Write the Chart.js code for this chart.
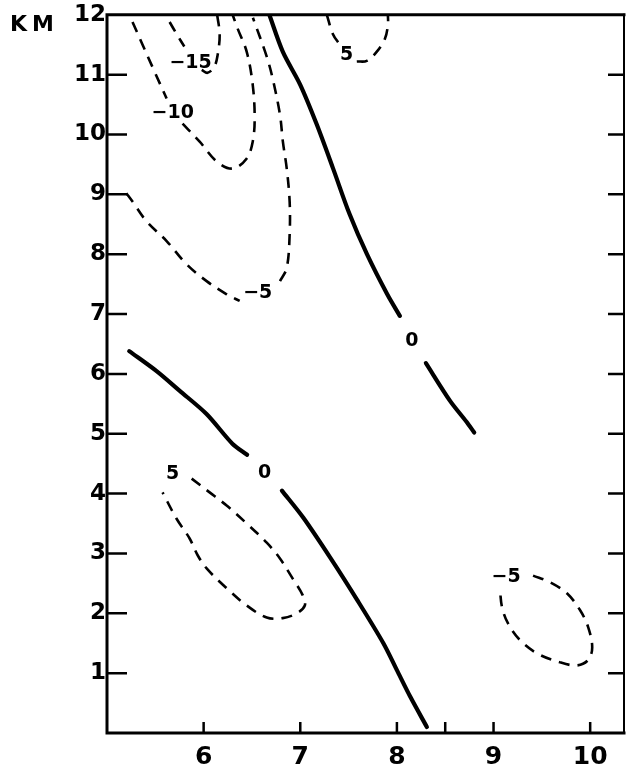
<!DOCTYPE html>
<html><head><meta charset="utf-8">
<script src="https://cdn.jsdelivr.net/npm/chart.js@4"></script>
<style>html,body{margin:0;padding:0;background:#fff;}#wrap{width:626px;height:770px;position:relative;}</style>
</head><body><div id="wrap"><canvas id="c" width="626" height="770"></canvas></div>
<script>
// ---- axis ticks ----
const xTicks = [6, 7, 8, 8.5, 9, 10];
const xTickLabels = ['6', '7', '8', '', '9', '10'];
const yTicks = [0, 1, 2, 3, 4, 5, 6, 7, 8, 9, 10, 11, 12];
const yTickLabels = ['', '1', '2', '3', '4', '5', '6', '7', '8', '9', '10', '11', '12'];
const yUnit = 'KM';

// ---- contour lines (x, km) ----
const zeroUpperA = [[6.68,12.0],[6.82,11.38],[7.0,10.83],[7.17,10.17],[7.34,9.43],[7.51,8.67],[7.69,8.0],[7.90,7.33],[8.03,6.97]];
const zeroUpperB = [[8.30,6.18],[8.55,5.55],[8.72,5.2],[8.80,5.02]];
const zeroLowerA = [[5.23,6.38],[5.51,6.05],[5.75,5.72],[6.03,5.33],[6.30,4.83],[6.45,4.65]];
const zeroLowerB = [[6.81,4.05],[7.03,3.6],[7.31,2.93],[7.59,2.22],[7.86,1.5],[8.0,1.05],[8.14,0.6],[8.31,0.1]];
const neg15A = [[5.648,11.88],[5.72,11.68],[5.80,11.47]];
const neg15B = [[5.98,11.08],[6.04,11.03],[6.11,11.13],[6.145,11.33],[6.166,11.67],[6.14,12.0]];
const neg10A = [[5.264,11.88],[5.368,11.5],[5.492,11.05],[5.617,10.6]];
const neg10B = [[5.782,10.18],[5.959,9.88],[6.135,9.55],[6.30,9.43],[6.446,9.6],[6.508,9.88],[6.528,10.27],[6.508,10.83],[6.446,11.38],[6.352,11.77],[6.30,12.0]];
const neg5A = [[5.20,9.02],[5.264,8.88],[5.409,8.55],[5.617,8.22],[5.824,7.83],[6.031,7.55],[6.238,7.33],[6.373,7.22]];
const neg5B = [[6.79,7.55],[6.86,7.77],[6.89,8.33],[6.89,8.88],[6.86,9.43],[6.82,9.88],[6.79,10.33],[6.715,10.93],[6.653,11.30],[6.51,11.95]];
const pos5TopA = [[7.275,12.0],[7.337,11.68],[7.409,11.5]];
const pos5TopB = [[7.585,11.22],[7.689,11.23],[7.79,11.38],[7.876,11.6],[7.907,11.83],[7.907,12.0]];
const pos5Low = [[5.876,4.25],[6.062,4.02],[6.238,3.8],[6.446,3.5],[6.653,3.18],[6.788,2.92],[6.922,2.58],[7.026,2.3],[7.047,2.13],[6.964,2.0],[6.819,1.92],[6.653,1.93],[6.446,2.13],[6.238,2.42],[6.031,2.75],[5.938,2.97],[5.855,3.25],[5.72,3.58],[5.575,4.02]];
const neg5Right = [[9.409,2.63],[9.585,2.52],[9.762,2.33],[9.896,2.05],[9.979,1.77],[10.021,1.43],[9.979,1.22],[9.865,1.13],[9.689,1.18],[9.451,1.33],[9.275,1.55],[9.150,1.83],[9.088,2.1],[9.067,2.38]];

// ---- contour labels ----
const labelTexts = ['\u221215', '\u221210', '\u22125', '5', '0', '0', '5', '\u22125'];
const labelX = [5.865, 5.68, 6.56, 7.48, 8.155, 6.63, 5.68, 9.13];
const labelY = [11.2, 10.35, 7.35, 11.33, 6.55, 4.35, 4.33, 2.6];

const solidLines = [zeroUpperA, zeroUpperB, zeroLowerA, zeroLowerB];
const dashedLines = [neg15A, neg15B, neg10A, neg10B, neg5A, neg5B, pos5TopA, pos5TopB, pos5Low, neg5Right];

const toPts = arr => arr.map(p => ({x: p[0], y: p[1]}));
const datasets = [];
solidLines.forEach(l => datasets.push({data: toPts(l), showLine: true, borderColor: '#000', borderWidth: 4.2, pointRadius: 0, tension: 0.3, borderCapStyle: 'round', fill: false}));
dashedLines.forEach(l => datasets.push({data: toPts(l), showLine: true, borderColor: '#000', borderWidth: 2.6, borderDash: [11, 8], pointRadius: 0, tension: 0.35, borderCapStyle: 'butt', fill: false}));

const framePlugin = {
  id: 'frame',
  afterDraw(chart) {
    const ctx = chart.ctx, a = chart.chartArea;
    const xs = chart.scales.x, ys = chart.scales.y;
    ctx.save();
    ctx.strokeStyle = '#000';
    ctx.lineCap = 'square';
    ctx.lineWidth = 3;
    ctx.beginPath();
    ctx.moveTo(a.left, a.top); ctx.lineTo(a.right, a.top);
    ctx.moveTo(a.left, a.top); ctx.lineTo(a.left, a.bottom); ctx.lineTo(a.right, a.bottom);
    ctx.stroke();
    ctx.lineWidth = 2;
    ctx.beginPath(); ctx.moveTo(a.right, a.top); ctx.lineTo(a.right, a.bottom); ctx.stroke();
    ctx.lineWidth = 2.5;
    ctx.lineCap = 'butt';
    ctx.beginPath();
    yTicks.forEach(v => {
      if (v <= 0 || v >= 12) return;
      const py = ys.getPixelForValue(v);
      ctx.moveTo(a.left, py); ctx.lineTo(a.left + 20, py);
      ctx.moveTo(a.right, py); ctx.lineTo(a.right - 16, py);
    });
    xTicks.forEach(v => {
      const px = xs.getPixelForValue(v);
      ctx.moveTo(px, a.bottom); ctx.lineTo(px, a.bottom - 11);
    });
    ctx.stroke();
    // unit label
    ctx.fillStyle = '#000';
    ctx.font = 'bold 22px "DejaVu Sans"';
    ctx.textBaseline = 'alphabetic';
    ctx.textAlign = 'left';
    ctx.fillText(yUnit[0], 10, 31);
    ctx.fillText(yUnit[1], 32, 31);
    // contour labels
    ctx.font = 'bold 19px "DejaVu Sans"';
    ctx.textAlign = 'center';
    ctx.textBaseline = 'middle';
    labelTexts.forEach((t, i) => {
      ctx.fillText(t, xs.getPixelForValue(labelX[i]), ys.getPixelForValue(labelY[i]));
    });
    ctx.restore();
  }
};

new Chart(document.getElementById('c'), {
  type: 'scatter',
  data: {datasets},
  options: {
    responsive: false,
    devicePixelRatio: 1,
    animation: false,
    layout: {padding: {top: 14, right: 2, left: 0, bottom: 0}},
    plugins: {legend: {display: false}, tooltip: {enabled: false}},
    scales: {
      x: {
        type: 'linear', min: 5.0, max: 10.35,
        afterBuildTicks: s => { s.ticks = xTicks.map(v => ({value: v})); },
        afterFit: s => { s.height = 37; },
        grid: {display: false, drawTicks: false},
        border: {display: false},
        ticks: {
          autoSkip: false, maxRotation: 0, padding: 9, color: '#000',
          font: {family: 'DejaVu Sans', weight: 'bold', size: 25},
          callback: (v) => { const i = xTicks.indexOf(v); return i >= 0 ? xTickLabels[i] : ''; }
        }
      },
      y: {
        type: 'linear', min: 0, max: 12,
        afterBuildTicks: s => { s.ticks = yTicks.map(v => ({value: v})); },
        afterFit: s => { s.width = 107; },
        grid: {display: false, drawTicks: false},
        border: {display: false},
        ticks: {
          autoSkip: false, padding: 1, color: '#000',
          font: {family: 'DejaVu Sans', weight: 'bold', size: 23},
          callback: (v) => { const i = yTicks.indexOf(v); return i >= 0 ? yTickLabels[i] : ''; }
        }
      }
    }
  },
  plugins: [framePlugin]
});
</script>
</body></html>
